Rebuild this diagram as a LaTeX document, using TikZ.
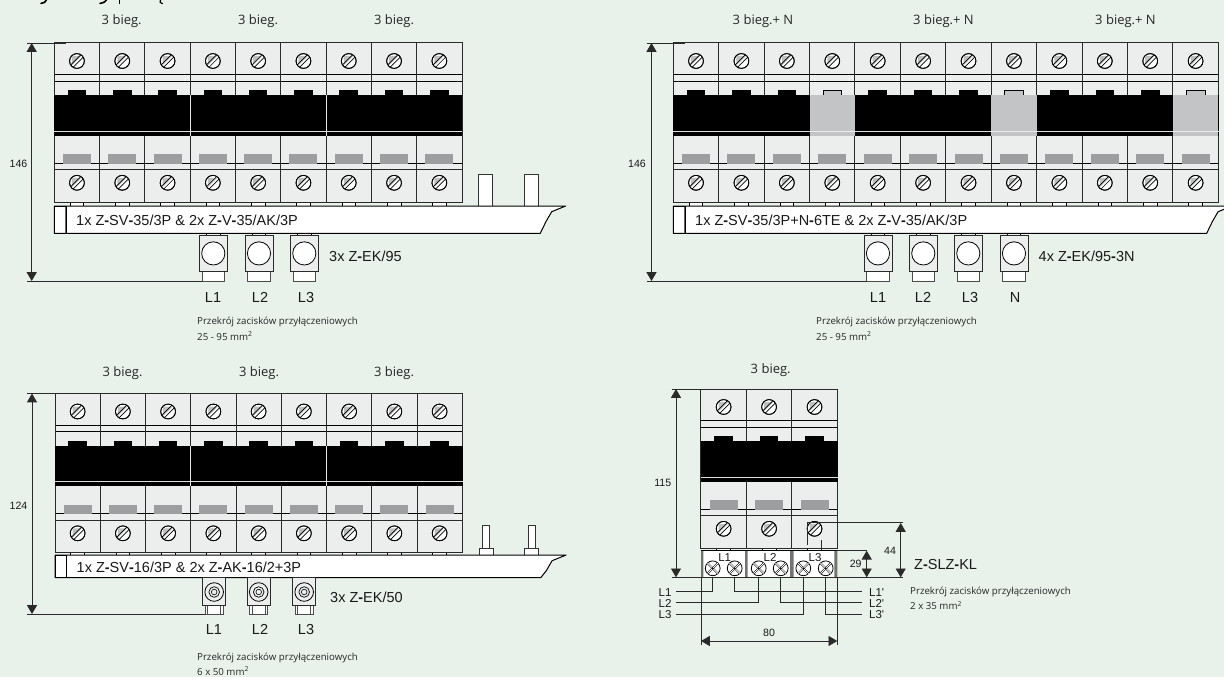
\documentclass[tikz,border=0pt]{standalone}
\usepackage{fontspec}
\usetikzlibrary{arrows.meta,calc}
\setmainfont{Open Sans}
\newfontfamily\arialf{Liberation Sans}
\definecolor{bgc}{HTML}{E8F2EA}
\definecolor{modc}{HTML}{ECEEED}
\definecolor{tabc}{HTML}{9D9E9F}
\definecolor{nmod}{HTML}{C3C4C5}
\definecolor{linec}{HTML}{2A2A2A}
\newcommand\hy{\textbf{-}}
\tikzset{
  x=1pt,y=-1pt,
  thinl/.style={draw=black,line width=.7pt},
  outl/.style={draw=linec,line width=1pt},
  dimline/.style={draw=linec,line width=.8pt,{Triangle[width=10pt,length=8.8pt]}-{Triangle[width=10pt,length=8.8pt]}},
  refline/.style={draw=linec,line width=.8pt},
  wire/.style={draw=linec,line width=.8pt},
  lbl/.style={inner sep=0pt,anchor=mid,font=\fontsize{13}{15}\selectfont,text=black!85},
  small/.style={inner sep=0pt,anchor=mid west,font=\fontsize{9.7}{11}\selectfont,text=black!85},
  arl/.style={inner sep=0pt,font=\arialf\fontsize{14.5}{16}\selectfont,text=black!90},
  arls/.style={inner sep=0pt,font=\arialf\fontsize{11.5}{13}\selectfont,text=black!90},
  dimt/.style={inner sep=0pt,font=\arialf\fontsize{10.6}{12}\selectfont,text=black!90},
}
% slotted screw
\newcommand\screwc[2]{%
  \draw[fill=white,line width=.8pt] (#1,#2) circle[radius=7.4];
  \fill[black!25] (#1,#2) ++(-5,-5) -- ++(9.4,0) -- ++(-9.4,9.4) -- cycle;
  \draw[line width=.7pt] ($(#1,#2)+(-6.2,3.8)$) -- ($(#1,#2)+(3.8,-6.2)$);
  \draw[line width=.7pt] ($(#1,#2)+(-3.8,6.2)$) -- ($(#1,#2)+(6.2,-3.8)$);
  \draw[line width=.8pt] (#1,#2) circle[radius=7.4];
}
% cross-head screw
\newcommand\xscrew[2]{%
  \draw[fill=white,line width=.8pt] (#1,#2) circle[radius=7.4];
  \draw[line width=.5pt,double=white,double distance=.9pt] ($(#1,#2)+(-5.2,-5.2)$) -- ($(#1,#2)+(5.2,5.2)$);
  \draw[line width=.5pt,double=white,double distance=.9pt] ($(#1,#2)+(-5.2,5.2)$) -- ($(#1,#2)+(5.2,-5.2)$);
  \fill (#1,#2) circle[radius=.9];
}
% row of breaker modules: x0, y0, step, n
\newcommand\brkrow[4]{%
  \begin{scope}[shift={(#1,#2)}]
    \pgfmathsetmacro\rowW{#3*#4}
    \fill[modc] (0,0) rectangle (\rowW,159);
    \foreach \i in {1,...,#4}{
      \pgfmathsetmacro\xa{(\i-1)*#3}
      \pgfmathsetmacro\xc{\xa+#3/2}
      \fill[white] (\xc-6.8,159) rectangle (\xc+6.8,163.5);
      \draw[thinl] (\xc-6.8,159) -- (\xc-6.8,163.5) (\xc+6.8,159) -- (\xc+6.8,163.5);
      \fill[black] (\xc-9.3,47.2) rectangle (\xc+9.3,53);
    }
    \draw[thinl] (0,31.6) -- (\rowW,31.6) (0,38.2) -- (\rowW,38.2);
    \draw[thinl] (0,119.9) -- (\rowW,119.9);
    \draw[outl] (0,126.5) -- (\rowW,126.5);
    \foreach \i in {1,...,#4}{
      \pgfmathsetmacro\xa{(\i-1)*#3}
      \pgfmathsetmacro\xc{\xa+#3/2}
      \fill[tabc] (\xc-14,111) rectangle (\xc+14,120.7);
      \screwc{\xc}{18}
      \screwc{\xc}{139.8}
    }
    \foreach \i in {1,...,#4}{
      \pgfmathsetmacro\xa{(\i-1)*#3}
      \draw[outl] (\xa,0) -- (\xa,159);
    }
    \draw[outl] (0,0) rectangle (\rowW,159);
    \fill[black] (-.4,52) rectangle (\rowW+.4,92.8);
    \fill[white!88!black] (-.4,87.6) rectangle (\rowW+.4,88.9);
  \end{scope}
}
% white seam in the black band: x, y0
\newcommand\seam[2]{\draw[white!90!black,line width=.8pt] (#1,#2+52) -- (#1,#2+92.8);}
% neutral module overlay: xa, y0, step
\newcommand\nmodule[3]{%
  \begin{scope}[shift={(#1,#2)}]
    \fill[modc] (#3/2-10,46.5) rectangle (#3/2+10,52);
    \draw[line width=.6pt,fill=nmod] (#3/2-9.3,47.4) rectangle (#3/2+9.3,52);
    \fill[nmod] (0,52) rectangle (#3,92.8);
    \fill[white!92!black] (0,87.6) rectangle (#3,88.9);
  \end{scope}
}
% bus bar: x left, y top, y bottom, x of lower right corner
\newcommand\busbar[4]{%
  \draw[draw=black,line width=1pt,fill=white,line join=round]
    (#1,#2) -- (#4+25.4,#2) -- (#4+11.4,#2+5.7) -- (#4+5.6,#2+15.7) -- (#4,#3) -- (#1,#3) -- cycle;
  \draw[draw=black!60,line width=1.3pt] (#1+11.8,#2) -- (#1+11.8,#3);
  \draw[draw=black,line width=1pt] (#1,#2) rectangle (#1+11.8,#3);
}
\newcommand\bigterm[1]{%
  \draw[thinl,fill=modc] (#1-6.7,233.3) rectangle (#1+6.7,236);
  \draw[draw=black!70,line width=.8pt,fill=white] (#1-11.3,271.7) rectangle (#1+11.3,281);
  \draw[draw=linec,line width=1pt,fill=modc] (#1-14,235.7) rectangle (#1+14,271.7);
  \draw[line width=.8pt,fill=white] (#1,253.4) circle[radius=11.6];
}
\newcommand\smallterm[1]{%
  \draw[draw=black!70,line width=.8pt,fill=white] (#1-9,605) rectangle (#1+9,614);
  \draw[draw=black!70,line width=.7pt] (#1-6.5,605) -- (#1-6.5,614) (#1+6.5,605) -- (#1+6.5,614);
  \draw[draw=linec,line width=.9pt,fill=modc] (#1-11.5,577.7) rectangle (#1+11.5,605);
  \draw[line width=.8pt,fill=modc] (#1,592) circle[radius=9.3];
  \draw[line width=.7pt] (#1,592) circle[radius=5.3];
  \draw[line width=.6pt] (#1,592) circle[radius=2.8];
}
\newcommand\bigstud[1]{\draw[draw=black!80,line width=.9pt,fill=white] (#1,174.3) rectangle (#1+14,206);}
\newcommand\smallstud[1]{%
  \draw[draw=black!80,line width=.8pt,fill=white] (#1+3.4,525.3) rectangle (#1+10.7,548);
  \draw[draw=black!80,line width=.8pt,fill=white] (#1,548) rectangle (#1+14,555);
}
\begin{document}
\begin{tikzpicture}
\useasboundingbox (0,0) rectangle (1224,677);
\clip (0,0) rectangle (1224,677);
\fill[bgc] (0,0) rectangle (1224,677);

% remnant of the cropped heading
\draw[line width=1.6pt,line cap=round] (41,3.4) .. controls (44,3.6) and (45.5,2) .. (47,-1);
\draw[line width=1.6pt,line cap=round] (100,3.4) .. controls (103,3.6) and (105,2) .. (107,-1);
\draw[line width=1.6pt] (119.5,-1) -- (119.5,4);
\draw[line width=1.2pt,line cap=round] (161,-1) .. controls (159.5,2) and (160,3.6) .. (162.5,3.6);

%%%% Panel 1
\brkrow{54.3}{43}{45.3}{9}
\seam{190.2}{43}\seam{326.1}{43}
\bigstud{478.7}\bigstud{524}
\busbar{54.3}{206}{233.3}{540.3}
\bigterm{213.3}\bigterm{259}\bigterm{304.3}
\coordinate (a1t) at (31.7,43); \coordinate (a1b) at (31.7,281);
\coordinate (a1tl) at (27,43); \coordinate (a1tr) at (66,43);
\coordinate (a1bl) at (27,281); \coordinate (a1br) at (202,281);
\draw[refline] (a1tl) -- (a1tr); \draw[refline] (a1bl) -- (a1br);
\draw[dimline] (a1t) -- (a1b);
\node[dimt] (d146a) at (18.5,164) {146};
\node[lbl] (h1a) at (121.7,21.9) {3 bieg.};
\node[lbl] (h1b) at (258,21.9) {3 bieg.};
\node[lbl] (h1c) at (394,21.9) {3 bieg.};
\node[arl,anchor=mid west] (bar1) at (76,223) {1x Z\hy SV\hy 35/3P \& 2x Z\hy V\hy 35/AK/3P};
\node[arl,anchor=mid west] (tx1) at (329,259) {3x Z\hy EK/95};
\node[arl,anchor=mid] (l1a) at (213,299.7) {L1};
\node[arl,anchor=mid] (l1b) at (260,299.7) {L2};
\node[arl,anchor=mid] (l1c) at (306,299.7) {L3};
\node[small] (p1a) at (197,321.9) {Przekrój zacisków przyłączeniowych};
\node[small] (p1b) at (197,337.9) {25 - 95 mm\textsuperscript{2}};

%%%% Panel 2
\brkrow{673.3}{43}{45.42}{12}
\nmodule{809.6}{43}{45.42}
\nmodule{991.3}{43}{45.42}
\nmodule{1173}{43}{45.42}
\busbar{673.3}{206}{233.3}{1206.7}
\bigterm{878}\bigterm{923.3}\bigterm{968.3}\bigterm{1014}
\coordinate (a2t) at (651.5,43); \coordinate (a2b) at (651.5,281);
\coordinate (a2tl) at (647,43); \coordinate (a2tr) at (685,43);
\coordinate (a2bl) at (647,281); \coordinate (a2br) at (867,281);
\draw[refline] (a2tl) -- (a2tr); \draw[refline] (a2bl) -- (a2br);
\draw[dimline] (a2t) -- (a2b);
\node[dimt] (d146b) at (637,164) {146};
\node[lbl] (h2a) at (763,21.9) {3 bieg.+ N};
\node[lbl] (h2b) at (943.5,21.9) {3 bieg.+ N};
\node[lbl] (h2c) at (1125.5,21.9) {3 bieg.+ N};
\node[arl,anchor=mid west] (bar2) at (695,223) {1x Z\hy SV\hy 35/3P+N\hy 6TE \& 2x Z\hy V\hy 35/AK/3P};
\node[arl,anchor=mid west] (tx2) at (1038.5,259) {4x Z\hy EK/95\hy 3N};
\node[arl,anchor=mid] (l2a) at (878,299.7) {L1};
\node[arl,anchor=mid] (l2b) at (923,299.7) {L2};
\node[arl,anchor=mid] (l2c) at (970,299.7) {L3};
\node[arl,anchor=mid] (l2d) at (1015,299.7) {N};
\node[small] (p2a) at (816,321.9) {Przekrój zacisków przyłączeniowych};
\node[small] (p2b) at (816,337.9) {25 - 95 mm\textsuperscript{2}};

%%%% Panel 3
\brkrow{55}{393.5}{45.25}{9}
\seam{190.8}{393.5}\seam{326.5}{393.5}
\smallstud{479}\smallstud{524.7}
\busbar{55}{555}{577.7}{540.7}
\smallterm{214.2}\smallterm{258.7}\smallterm{304.2}
\coordinate (a3t) at (32,393.5); \coordinate (a3b) at (32,614);
\coordinate (a3tl) at (27,393.5); \coordinate (a3tr) at (66,393.5);
\coordinate (a3bl) at (27,614); \coordinate (a3br) at (205,614);
\draw[refline] (a3tl) -- (a3tr); \draw[refline] (a3bl) -- (a3br);
\draw[dimline] (a3t) -- (a3b);
\node[dimt] (d124) at (18.5,506) {124};
\node[lbl] (h3a) at (122.5,373.9) {3 bieg.};
\node[lbl] (h3b) at (259,373.9) {3 bieg.};
\node[lbl] (h3c) at (394,373.9) {3 bieg.};
\node[arl,anchor=mid west] (bar3) at (76.5,569.7) {1x Z\hy SV\hy 16/3P \& 2x Z\hy AK\hy 16/2+3P};
\node[arl,anchor=mid west] (tx3) at (330,600) {3x Z\hy EK/50};
\node[arl,anchor=mid] (l3a) at (214,632) {L1};
\node[arl,anchor=mid] (l3b) at (260,632) {L2};
\node[arl,anchor=mid] (l3c) at (306,632) {L3};
\node[small] (p3a) at (197,657.9) {Przekrój zacisków przyłączeniowych};
\node[small] (p3b) at (197,672.9) {6 x 50 mm\textsuperscript{2}};

%%%% Panel 4
\brkrow{700.9}{389}{45.45}{3}
% clamp block
\fill[white] (701,550) rectangle (837.3,577.3);
\fill[black!55] (701,550) rectangle (703.3,577.3) (745,550) rectangle (747.7,577.3)
  (790,550) rectangle (793.7,577.3) (834.3,550) rectangle (837.3,577.3);
\draw[line width=.7pt] (701,550) -- (837.3,550);
\foreach \cx in {712.7,734.7,758.7,780.7,803.3,825.7}{\xscrew{\cx}{568.3}}
\node[arls,anchor=mid] (bl1) at (724.7,559) {L1};
\node[arls,anchor=mid] (bl2) at (770,559) {L2};
\node[arls,anchor=mid] (bl3) at (815,559) {L3};
% wiring
\coordinate (wa) at (712.7,577.3); \coordinate (wb) at (758.7,577.3); \coordinate (wc) at (803.3,577.3);
\coordinate (wd) at (734.7,577.3); \coordinate (we) at (780.7,577.3); \coordinate (wf) at (825.7,577.3);
\coordinate (wl1) at (676,591.3); \coordinate (wl2) at (676,602.7); \coordinate (wl3) at (676,614);
\coordinate (wr1) at (861.7,591.3); \coordinate (wr2) at (861.7,602.7); \coordinate (wr3) at (861.7,614);
\draw[wire] (wl1) -| (wa); \draw[wire] (wl2) -| (wb); \draw[wire] (wl3) -| (wc);
\draw[wire] (wr1) -| (wd); \draw[wire] (wr2) -| (we); \draw[wire] (wr3) -| (wf);
\node[arls,anchor=mid] (wn1) at (665,593.7) {L1};
\node[arls,anchor=mid] (wn2) at (665,604.7) {L2};
\node[arls,anchor=mid] (wn3) at (665,616) {L3};
\node[arls,anchor=mid west] (wn4) at (869,593.7) {L1'};
\node[arls,anchor=mid west] (wn5) at (869,604.7) {L2'};
\node[arls,anchor=mid west] (wn6) at (869,616) {L3'};
% dimensions
\coordinate (a4t) at (676,389); \coordinate (a4b) at (676,577.3);
\coordinate (a4tl) at (671.7,389); \coordinate (a4tr) at (710,389);
\coordinate (a4bl) at (671.7,577.3); \coordinate (a4br) at (902.7,577.3);
\draw[refline] (a4tl) -- (a4tr); \draw[refline] (a4bl) -- (a4br);
\draw[dimline] (a4t) -- (a4b);
\node[dimt] (d115) at (662.7,483.3) {115};
\coordinate (d80l) at (701,641); \coordinate (d80r) at (837.3,641);
\coordinate (d80lt) at (701,577.3); \coordinate (d80lb) at (701,645);
\coordinate (d80rt) at (837.3,577.3); \coordinate (d80rb) at (837.3,645);
\draw[refline] (d80lt) -- (d80lb); \draw[refline] (d80rt) -- (d80rb);
\draw[dimline] (d80l) -- (d80r);
\node[dimt] (d80) at (769,632.7) {80};
\coordinate (d29t) at (866.7,550.7); \coordinate (d29b) at (866.7,577.3); \coordinate (d29l) at (837.3,550.7);
\draw[refline] (d29l) -- (d29t);
\draw[dimline] (d29t) -- (d29b);
\node[dimt] (d29) at (855.7,564) {29};
\coordinate (d44t) at (900.7,523); \coordinate (d44b) at (900.7,577.3);
\coordinate (s1) at (807.7,522.7); \coordinate (s2) at (821.7,522.7); \coordinate (s3) at (902.7,522.7);
\coordinate (s4) at (807.7,545); \coordinate (s5) at (821.7,540); \coordinate (s6) at (821.7,550);
\draw[refline] (s4) -- (s1) -- (s3);
\draw[refline] (s5) -- (s6);
\draw[dimline] (d44t) -- (d44b);
\node[dimt] (d44) at (890,551) {44};
\node[arl,anchor=mid west] (zslz) at (914,567) {Z\hy SLZ\hy KL};
\node[lbl] (h4) at (770.7,370.5) {3 bieg.};
\node[small] (p4a) at (910,591.9) {Przekrój zacisków przyłączeniowych};
\node[small] (p4b) at (910,607.2) {2 x 35 mm\textsuperscript{2}};
\end{tikzpicture}
\end{document}
